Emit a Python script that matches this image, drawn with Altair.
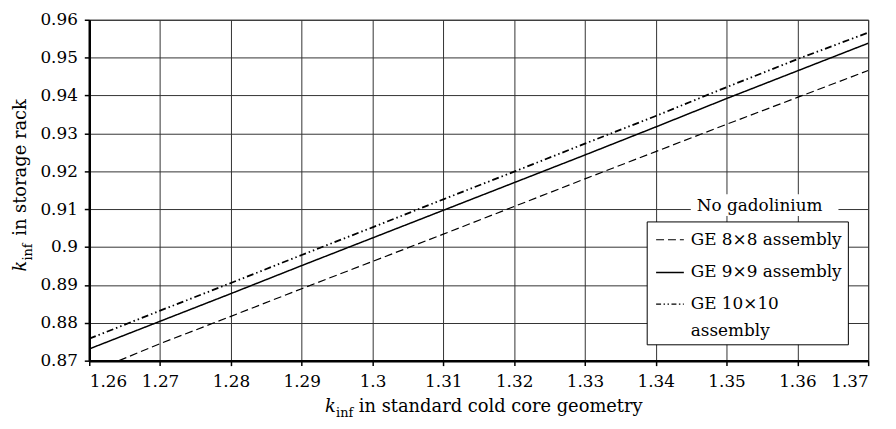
import altair as alt
import pandas as pd

FONT = "DejaVu Serif"

x_ticks = [1.26, 1.27, 1.28, 1.29, 1.30, 1.31, 1.32, 1.33, 1.34, 1.35, 1.36, 1.37]
y_ticks = [0.87, 0.88, 0.89, 0.90, 0.91, 0.92, 0.93, 0.94, 0.95, 0.96]

series_names = ["GE 8×8 assembly", "GE 9×9 assembly", "GE 10×10 assembly"]

ge8_x = [1.2642, 1.27, 1.28, 1.29, 1.30, 1.31, 1.32, 1.33, 1.34, 1.35, 1.36, 1.37]
ge8_y = [0.8700, 0.8745, 0.8817, 0.8890, 0.8962, 0.9034, 0.9107, 0.9180, 0.9252, 0.9324, 0.9395, 0.9466]

ge9_x = [1.26, 1.27, 1.28, 1.29, 1.30, 1.31, 1.32, 1.33, 1.34, 1.35, 1.36, 1.37]
ge9_y = [0.8731, 0.8804, 0.8877, 0.8951, 0.9024, 0.9097, 0.9170, 0.9243, 0.9317, 0.9392, 0.9465, 0.9538]

ge10_x = [1.26, 1.27, 1.28, 1.29, 1.30, 1.31, 1.32, 1.33, 1.34, 1.35, 1.36, 1.37]
ge10_y = [0.8758, 0.8832, 0.8905, 0.8979, 0.9052, 0.9126, 0.9199, 0.9273, 0.9346, 0.9422, 0.9496, 0.9566]

rows = []
for name, xs, ys in zip(series_names, [ge8_x, ge9_x, ge10_x], [ge8_y, ge9_y, ge10_y]):
    for xv, yv in zip(xs, ys):
        rows.append({"x": xv, "y": yv, "series": name})
df = pd.DataFrame(rows)

dash_range = [[8, 4], [1, 0], [7, 3, 1.5, 3, 1.5, 3]]
width_range = [1.2, 1.8, 1.2]

lines = alt.Chart(df).mark_line(clip=True, color="black").encode(
    x=alt.X("x:Q", scale=alt.Scale(domain=[1.26, 1.37], nice=False, zero=False),
            axis=alt.Axis(values=x_ticks, format="~g", title=None, labelPadding=8)),
    y=alt.Y("y:Q", scale=alt.Scale(domain=[0.87, 0.96], nice=False, zero=False),
            axis=alt.Axis(values=y_ticks, format="~g", title=None, labelPadding=7)),
    strokeDash=alt.StrokeDash("series:N", scale=alt.Scale(domain=series_names, range=dash_range), legend=None),
    strokeWidth=alt.StrokeWidth("series:N", scale=alt.Scale(domain=series_names, range=width_range), legend=None),
)

one = pd.DataFrame({"a": [0]})


def txt(text, x, y, size=18, style="normal", angle=0, align="left", baseline="alphabetic"):
    return alt.Chart(one).mark_text(
        text=text, font=FONT, fontSize=size, fontStyle=style, angle=angle,
        align=align, baseline=baseline, color="black"
    ).encode(x=alt.value(x), y=alt.value(y))


def rule(x1, x2, y, dash, w):
    return alt.Chart(one).mark_rule(color="black", strokeDash=dash, strokeWidth=w).encode(
        x=alt.value(x1), x2=alt.value(x2), y=alt.value(y))


def rect(x1, x2, y1, y2, stroke=True):
    kw = dict(fill="white")
    if stroke:
        kw.update(stroke="black", strokeWidth=1)
    return alt.Chart(one).mark_rect(**kw).encode(
        x=alt.value(x1), x2=alt.value(x2), y=alt.value(y1), y2=alt.value(y2))


annotations = [
    # x axis title
    txt("k", 238, 396, style="italic"),
    txt("inf", 249, 401, size=13),
    txt("in standard cold core geometry", 272, 396),
    # y axis title
    txt("k", -64, 254, style="italic", angle=270),
    txt("inf", -58, 243, size=13, angle=270),
    txt("in storage rack", -64, 218, angle=270),
    # legend
    rect(607, 756, 176, 198, stroke=False),
    txt("No gadolinium", 613, 193, size=17),
    rect(563, 766, 204, 328),
    rule(572, 600, 222, dash_range[0], 1.2),
    rule(572, 600, 255, dash_range[1], 1.4),
    rule(572, 600, 287, [5, 2.5, 1.5, 2.5, 1.5, 2.5], 1.2),
    txt(series_names[0], 607, 222, size=17, baseline="middle"),
    txt(series_names[1], 607, 255, size=17, baseline="middle"),
    txt("GE 10×10", 607, 287, size=17, baseline="middle"),
    txt("assembly", 607, 314, size=17, baseline="middle"),
]

chart = alt.layer(lines, *annotations).properties(
    width=786, height=344,
    autosize=alt.AutoSizeParams(type="none"),
    padding={"left": 82, "top": 10, "right": 20, "bottom": 58},
).configure_axis(
    labelFont=FONT, labelFontSize=17, labelColor="black",
    gridColor="#333333", gridWidth=1, gridOpacity=1,
    domainColor="black", domainWidth=2.5,
    tickColor="black", tickSize=5, tickWidth=1.5,
).configure_view(stroke="#333333", strokeWidth=1)

chart.save("out.html", embed_options={"renderer": "svg", "actions": False})
